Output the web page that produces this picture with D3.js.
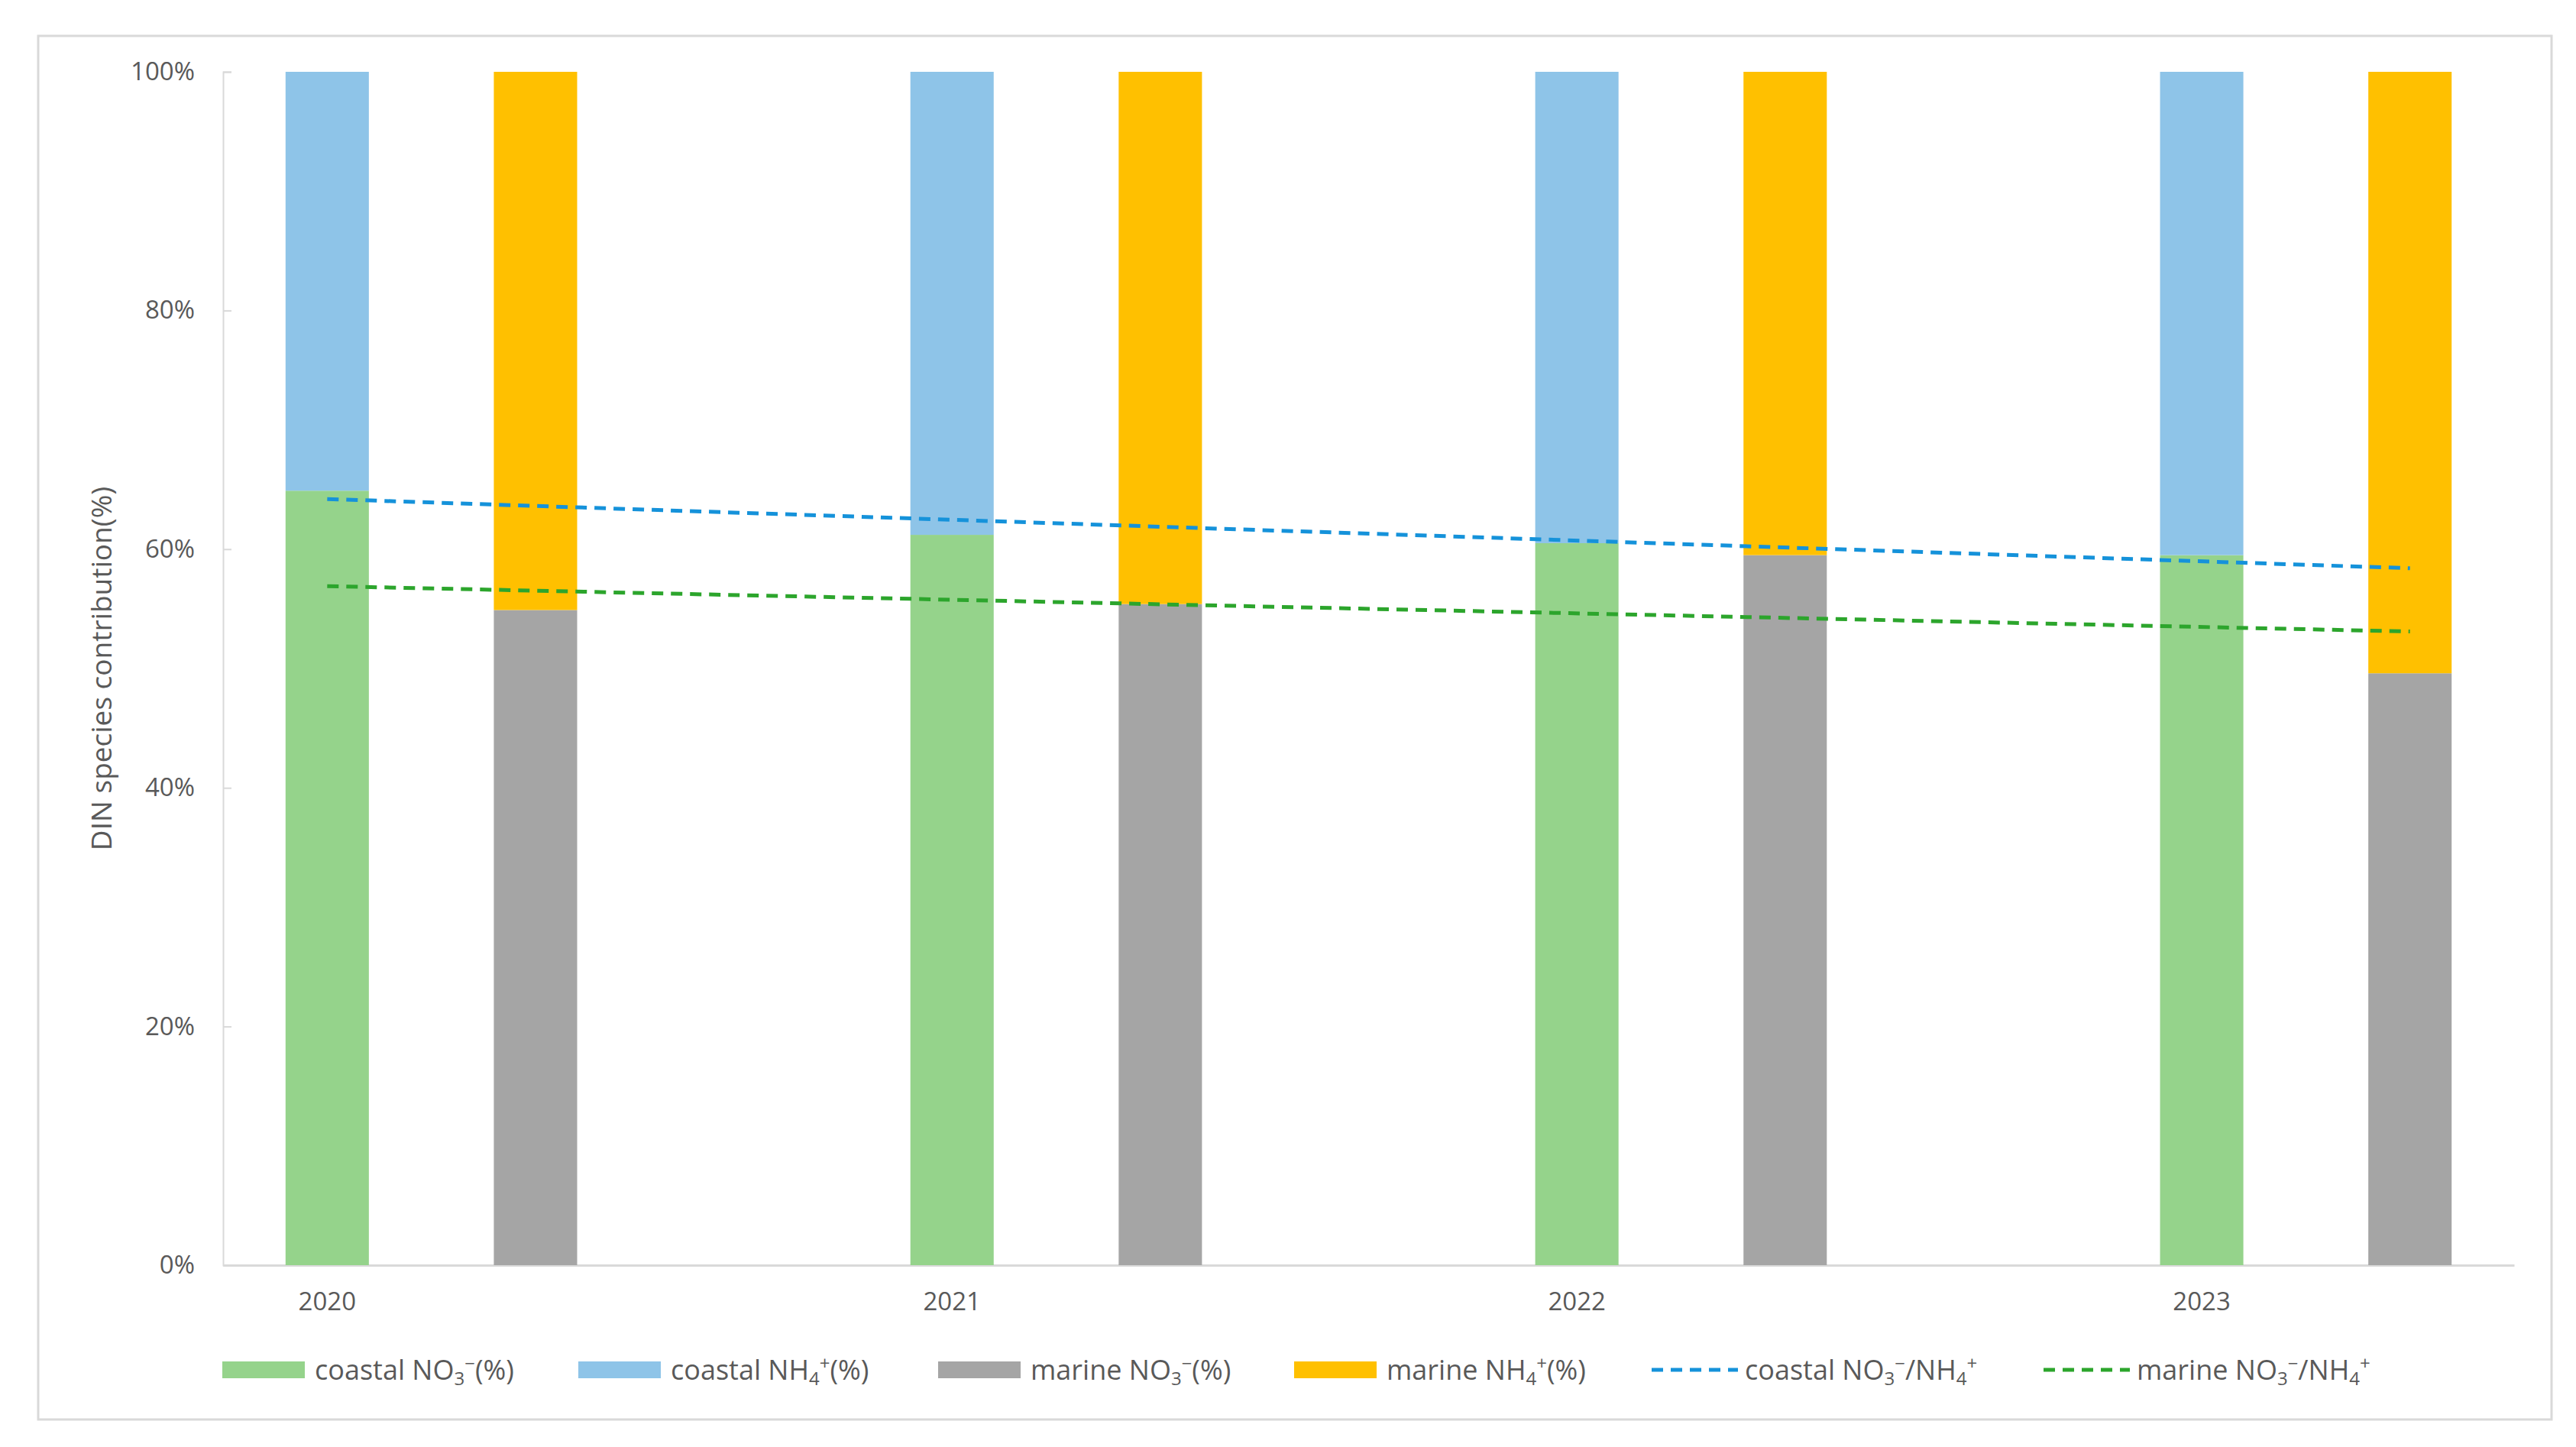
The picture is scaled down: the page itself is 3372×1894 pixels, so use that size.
<!DOCTYPE html>
<html>
<head>
<meta charset="utf-8">
<script src="https://cdn.jsdelivr.net/npm/d3@7"></script>
<style>
  body { margin: 0; background: #fff; }
  text { font-family: "Open Sans", "Liberation Sans", sans-serif; fill: #595959; }
</style>
</head>
<body>
<div id="chart"></div>
<script>

// chart data
const years = ["2020", "2021", "2022", "2023"];
const coastalNO3 = [64.9, 61.2, 60.5, 59.5];
const coastalNH4 = [35.1, 38.8, 39.5, 40.5];
const marineNO3 = [54.9, 55.4, 59.5, 49.6];
const marineNH4 = [45.1, 44.6, 40.5, 50.4];
// the two dashed ratio lines (start at 2020 coastal bar, end at 2023 marine bar)
const coastalRatio = [64.2, 58.4];
const marineRatio = [56.9, 53.1];
const yTicks = [0, 20, 40, 60, 80, 100];

const width = 3372;
const height = 1894;
const margin = {left: 292, right: 81, top: 94, bottom: 238};

const colors = {
  coastalNO3: "#95d38b",
  coastalNH4: "#8ec4e8",
  marineNO3: "#a5a5a5",
  marineNH4: "#ffc000",
  coastalLine: "#1592da",
  marineLine: "#2ca52c"
};

const svg = d3.select("#chart")
  .append("svg")
  .attr("width", width)
  .attr("height", height);

// outer frame
svg.append("rect")
  .attr("x", 50).attr("y", 47)
  .attr("width", 3290).attr("height", 1811)
  .attr("fill", "none")
  .attr("stroke", "#d9d9d9")
  .attr("stroke-width", 3);

// slots: coastal, marine, gap ... for every year (no gap after the last)
const slots = [];
years.forEach((y, i) => {
  slots.push(y + "-c", y + "-m");
  if (i < years.length - 1) slots.push(y + "-g");
});

const xScale = d3.scaleBand()
  .domain(slots)
  .range([margin.left, width - margin.right])
  .padding(0);

const yScale = d3.scaleLinear()
  .domain([0, 100])
  .range([height - margin.bottom, margin.top]);

const barW = xScale.bandwidth() * 0.4;
const cx = key => xScale(key) + xScale.bandwidth() / 2;

// y axis
const yAxis = svg.append("g")
  .attr("transform", `translate(${margin.left},0)`)
  .call(d3.axisLeft(yScale)
    .tickValues(yTicks)
    .tickSize(-11)
    .tickPadding(37)
    .tickFormat(d => d + "%"));
yAxis.select(".domain").attr("stroke", "#d9d9d9").attr("stroke-width", 2);
yAxis.selectAll(".tick line").attr("stroke", "#d9d9d9").attr("stroke-width", 2);
yAxis.selectAll("text")
  .attr("font-size", 33)
  .attr("font-family", null)
  .attr("fill", "#595959");

// x axis
const xAxis = svg.append("g")
  .attr("transform", `translate(0,${height - margin.bottom})`)
  .call(d3.axisBottom(xScale)
    .tickValues(years.map(y => y + "-c"))
    .tickSize(0)
    .tickPadding(36)
    .tickFormat(d => d.slice(0, 4)));
xAxis.select(".domain").attr("stroke", "#d9d9d9").attr("stroke-width", 3);
xAxis.selectAll("text")
  .attr("font-size", 33)
  .attr("font-family", null)
  .attr("fill", "#595959");

// stacked bars
const barData = [];
years.forEach((y, i) => {
  barData.push({slot: y + "-c", y0: 0, y1: coastalNO3[i], color: colors.coastalNO3});
  barData.push({slot: y + "-c", y0: coastalNO3[i], y1: coastalNO3[i] + coastalNH4[i], color: colors.coastalNH4});
  barData.push({slot: y + "-m", y0: 0, y1: marineNO3[i], color: colors.marineNO3});
  barData.push({slot: y + "-m", y0: marineNO3[i], y1: marineNO3[i] + marineNH4[i], color: colors.marineNH4});
});

svg.selectAll(".bar")
  .data(barData)
  .enter()
  .append("rect")
    .attr("class", "bar")
    .attr("x", d => cx(d.slot) - barW / 2)
    .attr("y", d => yScale(d.y1))
    .attr("width", barW)
    .attr("height", d => yScale(d.y0) - yScale(d.y1))
    .attr("fill", d => d.color);

// dashed ratio lines
const lineEnds = [years[0] + "-c", years[years.length - 1] + "-m"];
const line = d3.line()
  .x((d, i) => cx(lineEnds[i]))
  .y(d => yScale(d));

[[coastalRatio, colors.coastalLine], [marineRatio, colors.marineLine]].forEach(([vals, col]) => {
  svg.append("path")
    .datum(vals)
    .attr("d", line)
    .attr("fill", "none")
    .attr("stroke", col)
    .attr("stroke-width", 5)
    .attr("stroke-dasharray", "15,10");
});

// y axis title
svg.append("text")
  .attr("transform", `translate(136,${(yScale(0) + yScale(100)) / 2}) rotate(-90)`)
  .attr("text-anchor", "middle")
  .attr("dominant-baseline", "middle")
  .attr("font-size", 37)
  .attr("fill", "#404040")
  .text("DIN species contribution(%)");

// legend
const legendItems = [
  {type: "rect", color: colors.coastalNO3, x: 291, parts: [["coastal NO"], ["3", "sub"], ["\u2212", "super"], ["(%)"]]},
  {type: "rect", color: colors.coastalNH4, x: 757, parts: [["coastal NH"], ["4", "sub"], ["+", "super"], ["(%)"]]},
  {type: "rect", color: colors.marineNO3, x: 1228, parts: [["marine NO"], ["3", "sub"], ["\u2212", "super"], ["(%)"]]},
  {type: "rect", color: colors.marineNH4, x: 1694, parts: [["marine NH"], ["4", "sub"], ["+", "super"], ["(%)"]]},
  {type: "line", color: colors.coastalLine, x: 2162, parts: [["coastal NO"], ["3", "sub"], ["\u2212", "super"], ["/NH"], ["4", "sub"], ["+", "super"]]},
  {type: "line", color: colors.marineLine, x: 2675, parts: [["marine NO"], ["3", "sub"], ["\u2212", "super"], ["/NH"], ["4", "sub"], ["+", "super"]]}
];
const legendY = 1793;

legendItems.forEach(item => {
  const g = svg.append("g").attr("transform", `translate(${item.x},${legendY})`);
  if (item.type === "rect") {
    g.append("rect")
      .attr("x", 0).attr("y", -11)
      .attr("width", 108).attr("height", 22)
      .attr("fill", item.color);
  } else {
    g.append("line")
      .attr("x1", 0).attr("x2", 113)
      .attr("y1", 0).attr("y2", 0)
      .attr("stroke", item.color)
      .attr("stroke-width", 5)
      .attr("stroke-dasharray", "15,10");
  }
  const t = g.append("text")
    .attr("x", item.type === "rect" ? 121 : 122)
    .attr("y", 13)
    .attr("font-size", 36);
  item.parts.forEach(p => {
    const s = t.append("tspan").text(p[0]);
    if (p[1]) {
      s.attr("font-size", 24).attr("baseline-shift", p[1] === "sub" ? "-7" : "13");
    }
  });
});

</script>
</body>
</html>
